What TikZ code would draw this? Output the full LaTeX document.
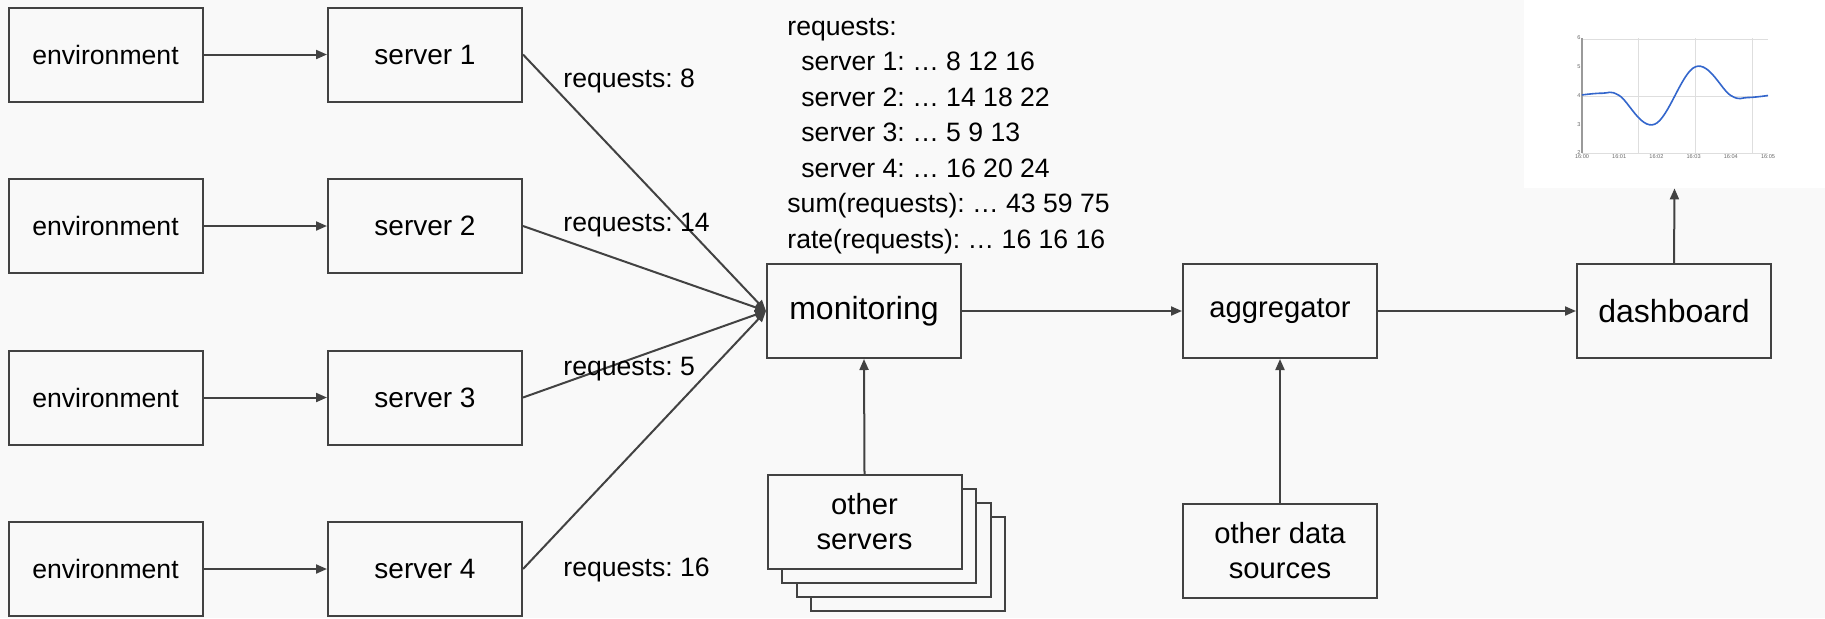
\documentclass[tikz,border=0pt]{standalone}
\usepackage{fontspec}
\setmainfont{Liberation Sans}
\usetikzlibrary{arrows.meta}
\definecolor{linegray}{HTML}{424242}
\definecolor{pagegray}{HTML}{F9F9F9}
\definecolor{gridgray}{HTML}{DEDEDE}
\definecolor{axisgray}{HTML}{9A9A9A}
\definecolor{tickgray}{HTML}{6A6A6A}
\definecolor{plotblue}{HTML}{3366CC}
\frenchspacing

\begin{document}
\begin{tikzpicture}[
  x=0.5pt, y=-0.5pt,
  plain_box/.style={draw=linegray, line width=1pt, fill=pagegray, minimum width=97pt, minimum height=47pt, inner sep=0pt, font=\fontsize{13.3pt}{16pt}\selectfont},
  server_box/.style={plain_box, font=\fontsize{14pt}{17pt}\selectfont},
  wide_box/.style={plain_box, align=center, font=\fontsize{14.6pt}{17.5pt}\selectfont},
  big_box/.style={plain_box, font=\fontsize{16pt}{19pt}\selectfont},
  note_text/.style={anchor=base west, inner sep=0pt, font=\fontsize{13.3pt}{16pt}\selectfont},
  tick_text/.style={inner sep=0.6pt, text=tickgray, font=\fontsize{2.8pt}{3pt}\selectfont},
  flow_arrow/.style={draw=linegray, line width=1pt, -{Triangle[length=5.5pt, width=4.5pt]}},
]
\fill[pagegray] (0,0) rectangle (1825,618);
\useasboundingbox (0,0) rectangle (1825,618);

\draw (105.5,54.5) node (env1) [plain_box] {environment};
\draw (105.5,226) node (env2) [plain_box] {environment};
\draw (105.5,397.5) node (env3) [plain_box] {environment};
\draw (105.5,569) node (env4) [plain_box] {environment};

\draw (425,54.5) node (srv1) [server_box] {server 1};
\draw (425,226) node (srv2) [server_box] {server 2};
\draw (425,397.5) node (srv3) [server_box] {server 3};
\draw (425,569) node (srv4) [server_box] {server 4};

\draw (864,311) node (mon) [big_box] {monitoring};
\draw (1280,311) node (agg) [wide_box] {aggregator};
\draw (1674,311) node (dash) [big_box] {dashboard};

\draw (908,564) node (stack3) [wide_box] {};
\draw (893.5,550) node (stack2) [wide_box] {};
\draw (879,536) node (stack1) [wide_box] {};
\draw (864.5,522) node (others) [wide_box] {other\\servers};
\draw (1280,550.5) node (odata) [wide_box] {other data\\sources};

\draw (787,35) node (note0) [note_text] {requests:};
\draw (801,70.5) node (note1) [note_text] {server 1: … 8 12 16};
\draw (801,106) node (note2) [note_text] {server 2: … 14 18 22};
\draw (801,141.5) node (note3) [note_text] {server 3: … 5 9 13};
\draw (801,177) node (note4) [note_text] {server 4: … 16 20 24};
\draw (787,212.5) node (note5) [note_text] {sum(requests): … 43 59 75};
\draw (787,248) node (note6) [note_text] {rate(requests): … 16 16 16};

\draw (env1.east) edge [flow_arrow] (srv1.west);
\draw (env2.east) edge [flow_arrow] (srv2.west);
\draw (env3.east) edge [flow_arrow] (srv3.west);
\draw (env4.east) edge [flow_arrow] (srv4.west);

\draw (srv1.east) edge [flow_arrow] (mon.west);
\draw (srv2.east) edge [flow_arrow] (mon.west);
\draw (srv3.east) edge [flow_arrow] (mon.west);
\draw (srv4.east) edge [flow_arrow] (mon.west);

\draw (563,87) node (req1) [note_text] {requests: 8};
\draw (563,231) node (req2) [note_text] {requests: 14};
\draw (563,375) node (req3) [note_text] {requests: 5};
\draw (563,576) node (req4) [note_text] {requests: 16};

\draw (mon.east) edge [flow_arrow] (agg.west);
\draw (agg.east) edge [flow_arrow] (dash.west);
\draw (others.north) edge [flow_arrow] (mon.south);
\draw (odata.north) edge [flow_arrow] (agg.south);

\draw (1674.5,94) node (chart) [fill=white, minimum width=150.5pt, minimum height=94pt, inner sep=0pt] {};
\draw (dash.north) edge [flow_arrow] (chart.south);

\begin{scope}[shift={(1582,153)}, x=18.6pt, y=14.375pt]
\draw[gridgray, line width=0.5pt] (0,0) grid (5,4);
\draw[axisgray, line width=0.6pt] (0,0) -- (0,4);
\draw[plotblue, line width=0.8pt] plot[smooth, tension=0.65] coordinates {(0,2.02) (0.55,2.08) (1,2) (1.95,1) (3.05,3) (4,2) (4.45,1.93) (5,2)};
\draw (0,0) node (y2) [tick_text, left] {2};
\draw (0,1) node (y3) [tick_text, left] {3};
\draw (0,2) node (y4) [tick_text, left] {4};
\draw (0,3) node (y5) [tick_text, left] {5};
\draw (0,4) node (y6) [tick_text, left] {6};
\draw (0,0) node (t0) [tick_text, below] {16:00};
\draw (1,0) node (t1) [tick_text, below] {16:01};
\draw (2,0) node (t2) [tick_text, below] {16:02};
\draw (3,0) node (t3) [tick_text, below] {16:03};
\draw (4,0) node (t4) [tick_text, below] {16:04};
\draw (5,0) node (t5) [tick_text, below] {16:05};
\end{scope}
\end{tikzpicture}
\end{document}
